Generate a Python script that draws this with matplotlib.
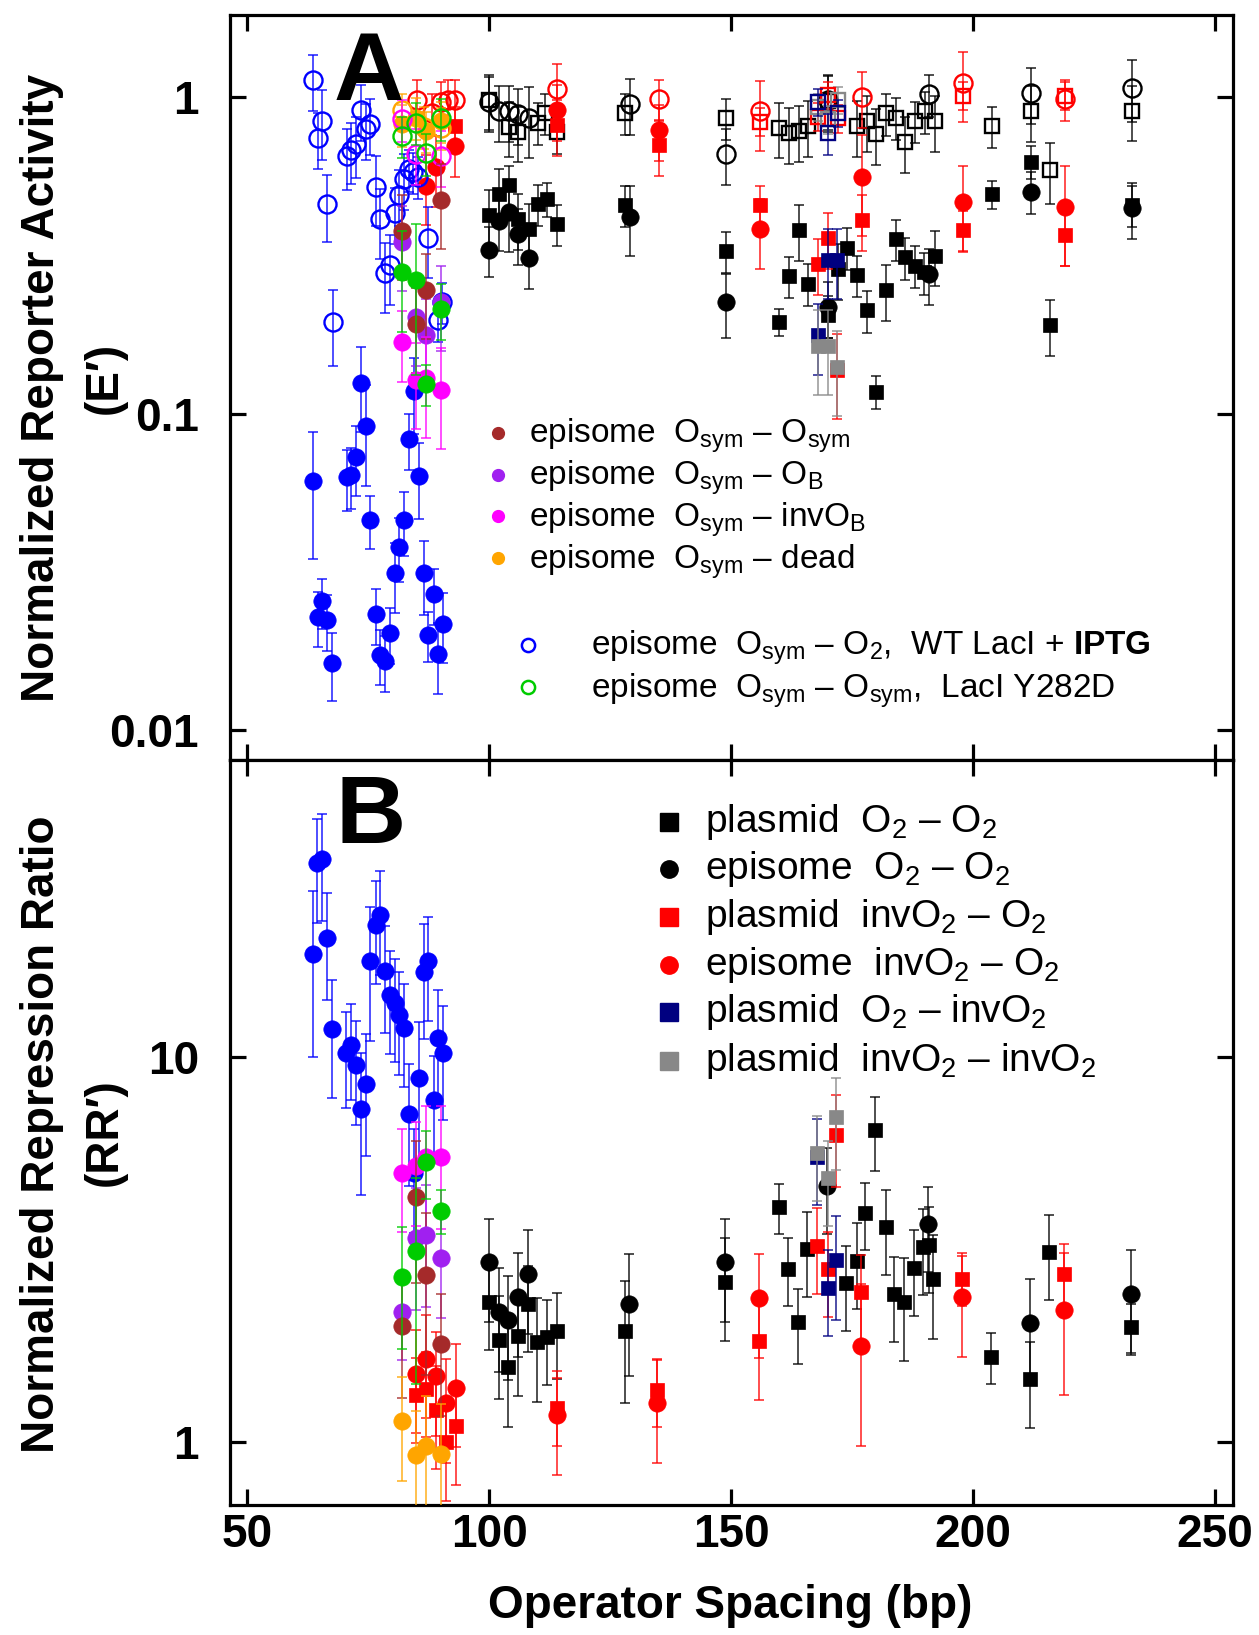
import numpy as np
import matplotlib
matplotlib.use("Agg")
import matplotlib.pyplot as plt

plt.rcParams['font.family'] = ['Liberation Sans', 'DejaVu Sans']
plt.rcParams['mathtext.fontset'] = 'custom'
plt.rcParams['mathtext.rm'] = 'Liberation Sans'
plt.rcParams['mathtext.it'] = 'Liberation Sans:italic'
plt.rcParams['mathtext.bf'] = 'Liberation Sans:bold'

# ---------------- panel A : normalized reporter activity ----------------
# episome Osym-O2, WT LacI (+IPTG open, no IPTG filled)
a_blue_open_x = [63.5, 64.5, 65.5, 66.5, 67.6, 70.6, 71.4, 72.5, 73.5, 74.5, 75.4, 76.5,
                 77.4, 78.5, 79.5, 80.5, 81.4, 82.4, 83.3, 84.3, 85.3, 87.4, 89.3, 90.3]
a_blue_open_y = [1.13, 0.74, 0.84, 0.458, 0.194, 0.65, 0.68, 0.71, 0.91, 0.79, 0.82, 0.52,
                 0.41, 0.277, 0.294, 0.43, 0.49, 0.55, 0.59, 0.58, 0.56, 0.358, 0.198, 0.225]
a_blue_open_e = [0.2, 0.2, 0.25, 0.24, 0.27, 0.22, 0.22, 0.22, 0.2, 0.2, 0.2, 0.25,
                 0.25, 0.25, 0.25, 0.2, 0.2, 0.2, 0.15, 0.15, 0.15, 0.25, 0.15, 0.15]
a_blue_x = [63.5, 64.5, 65.5, 66.4, 67.5, 70.6, 71.4, 72.5, 73.4, 74.5, 75.4, 76.5, 77.4,
            78.5, 79.4, 80.5, 81.4, 82.4, 83.5, 84.5, 85.4, 86.5, 87.4, 88.5, 89.4, 90.4]
a_blue_y = [0.061, 0.0228, 0.0255, 0.0222, 0.0163, 0.063, 0.064, 0.073, 0.125, 0.091, 0.046,
            0.0232, 0.0173, 0.0165, 0.0202, 0.0313, 0.038, 0.046, 0.083, 0.118, 0.0637,
            0.0313, 0.020, 0.0269, 0.0174, 0.0217]
a_blue_e = [0.43, 0.2, 0.18, 0.2, 0.24, 0.22, 0.22, 0.25, 0.3, 0.35, 0.19, 0.2, 0.2,
            0.2, 0.2, 0.25, 0.23, 0.23, 0.2, 0.27, 0.27, 0.26, 0.18, 0.2, 0.25, 0.25]

cluster_x = [82.0, 84.9, 86.9, 90.0]
a_brown_y = [0.376, 0.192, 0.245, 0.473]
a_brown_e = [0.3, 0.3, 0.3, 0.3]
a_purple_y = [0.349, 0.202, 0.177, 0.225]
a_purple_e = [0.3, 0.3, 0.3, 0.3]
a_magenta_y = [0.168, 0.128, 0.129, 0.119]
a_magenta_e = [0.25, 0.3, 0.35, 0.35]
a_orange_y = [0.82, 0.86, 0.78, 0.84]
a_orange_e = [0.15, 0.15, 0.15, 0.15]
a_green_y = [0.279, 0.264, 0.124, 0.214]
a_green_e = [0.35, 0.5, 0.15, 0.2]

a_orange_open_x = [82.0, 86.5, 90.0]
a_orange_open_y = [0.91, 0.806, 0.80]
a_orange_open_e = [0.12, 0.15, 0.15]
a_magenta_open_x = [82.0, 84.9, 90.0]
a_magenta_open_y = [0.85, 0.66, 0.65]
a_magenta_open_e = [0.15, 0.2, 0.2]
a_green_open_y = [0.753, 0.83, 0.664, 0.856]
a_green_open_e = [0.15, 0.15, 0.15, 0.15]

# O2 / invO2 constructs
a_red_open_x = [85.0, 88.2, 90.0, 91.4, 92.9, 114.0, 135.0, 156.0, 177.0, 198.0, 219.0]
a_red_open_y = [0.98, 0.89, 0.966, 0.98, 0.98, 1.06, 0.985, 0.90, 1.0, 1.11, 0.985]
a_red_open_e = [0.15, 0.15, 0.15, 0.15, 0.15, 0.2, 0.15, 0.25, 0.2, 0.25, 0.15]
a_red_osq_x = [156.0, 167.9, 170.0, 172.0, 198.0, 219.0]
a_red_osq_y = [0.836, 0.867, 1.015, 0.856, 1.01, 1.01]
a_red_osq_e = [0.1, 0.1, 0.1, 0.1, 0.1, 0.1]
a_red_x = [86.9, 88.9, 92.9, 114.0, 135.0, 156.0, 177.0, 198.0, 219.0]
a_red_y = [0.524, 0.60, 0.70, 0.91, 0.787, 0.382, 0.56, 0.465, 0.449]
a_red_e = [0.25, 0.25, 0.2, 0.2, 0.2, 0.25, 0.35, 0.3, 0.35]
a_red_sq_x = [92.9, 114.0, 135.0, 156.0, 167.9, 170.0, 171.8, 177.0, 198.0, 219.0]
a_red_sq_y = [0.81, 0.816, 0.705, 0.454, 0.296, 0.358, 0.137, 0.409, 0.38, 0.365]
a_red_sq_e = [0.15, 0.2, 0.2, 0.15, 0.2, 0.2, 0.3, 0.2, 0.15, 0.2]

a_k_osq_x = [100.0, 104.0, 106.0, 110.0, 111.5, 114.0, 128.0, 148.9, 159.9, 162.0, 164.0, 165.9, 170.0,
             175.9, 178.0, 179.9, 181.9, 184.0, 186.0, 188.0, 190.0, 192.1, 204.0, 212.0, 215.9, 232.9]
a_k_osq_y = [0.98, 0.805, 0.777, 0.83, 0.89, 0.777, 0.89, 0.857, 0.80, 0.768, 0.78, 0.81, 0.97,
             0.81, 0.84, 0.763, 0.888, 0.86, 0.719, 0.84, 0.90, 0.84, 0.81, 0.903, 0.588, 0.905]
a_k_osq_e = [0.2, 0.2, 0.2, 0.15, 0.15, 0.15, 0.15, 0.15, 0.2, 0.2, 0.2, 0.2, 0.2,
             0.2, 0.2, 0.2, 0.15, 0.15, 0.2, 0.15, 0.15, 0.2, 0.15, 0.2, 0.22, 0.2]
a_k_oc_x = [100.0, 102.1, 104.0, 106.0, 108.1, 129.0, 148.9, 170.0, 190.9, 212.0, 232.9]
a_k_oc_y = [0.966, 0.90, 0.90, 0.88, 0.857, 0.95, 0.66, 0.98, 1.02, 1.03, 1.07]
a_k_oc_e = [0.2, 0.2, 0.2, 0.2, 0.25, 0.2, 0.2, 0.2, 0.15, 0.2, 0.22]
a_k_sq_x = [100.0, 102.1, 104.0, 106.0, 108.1, 110.0, 112.0, 114.0, 128.0, 148.9, 159.9, 162.0, 164.0,
            165.9, 170.0, 172.0, 174.0, 175.9, 178.0, 179.9, 181.9, 184.0, 186.0, 188.0, 189.9, 192.1,
            204.0, 212.0, 215.9, 232.9]
a_k_sq_y = [0.424, 0.494, 0.527, 0.411, 0.383, 0.459, 0.476, 0.397, 0.456, 0.326, 0.195, 0.272, 0.38,
            0.257, 0.204, 0.286, 0.334, 0.274, 0.212, 0.117, 0.245, 0.356, 0.311, 0.293, 0.279, 0.315,
            0.493, 0.625, 0.19, 0.456]
a_k_sq_e = [0.2, 0.2, 0.15, 0.2, 0.2, 0.15, 0.12, 0.15, 0.15, 0.15, 0.1, 0.15, 0.2,
            0.15, 0.15, 0.2, 0.15, 0.15, 0.15, 0.12, 0.2, 0.15, 0.15, 0.15, 0.15, 0.2,
            0.1, 0.12, 0.2, 0.15]
a_k_x = [100.0, 102.1, 104.0, 106.0, 108.1, 129.0, 148.9, 170.0, 190.9, 212.0, 232.9]
a_k_y = [0.329, 0.407, 0.432, 0.368, 0.309, 0.419, 0.225, 0.217, 0.275, 0.502, 0.445]
a_k_e = [0.18, 0.2, 0.25, 0.2, 0.2, 0.25, 0.23, 0.2, 0.2, 0.15, 0.2]

a_navy_x = [167.9, 170.1, 171.8]
a_navy_y = [0.177, 0.306, 0.306]
a_navy_e = [0.25, 0.25, 0.25]
a_gray_x = [167.9, 170.0, 171.8]
a_gray_y = [0.163, 0.163, 0.14]
a_gray_e = [0.3, 0.3, 0.3]
a_navy_osq_x = [167.9, 170.0, 172.0]
a_navy_osq_y = [0.966, 0.77, 0.89]
a_navy_osq_e = [0.1, 0.15, 0.1]
a_gray_osq_x = [168.0, 170.0, 172.0]
a_gray_osq_y = [0.93, 0.85, 0.98]
a_gray_osq_e = [0.1, 0.1, 0.1]

# ---------------- panel B : normalized repression ratio ----------------
b_blue_x = [63.5, 64.4, 65.5, 66.4, 67.5, 70.4, 71.4, 72.5, 73.4, 74.5, 75.4, 76.5, 77.4,
            78.5, 79.5, 80.5, 81.4, 82.4, 83.5, 84.5, 85.4, 86.5, 87.4, 88.5, 89.4, 90.4]
b_blue_y = [18.5, 31.8, 32.6, 20.3, 11.8, 10.2, 10.7, 9.5, 7.3, 8.5, 17.7, 22.0, 23.3,
            16.7, 14.5, 13.8, 12.8, 11.9, 7.1, 4.98, 8.8, 16.6, 17.7, 7.7, 11.2, 10.2]
b_blue_e = [0.46, 0.3, 0.31, 0.31, 0.34, 0.28, 0.28, 0.3, 0.4, 0.35, 0.38, 0.3, 0.3,
            0.31, 0.3, 0.3, 0.3, 0.3, 0.35, 0.3, 0.4, 0.33, 0.3, 0.3, 0.33, 0.33]
b_magenta_y = [5.0, 5.2, 5.5, 5.5]
b_magenta_e = [0.3, 0.3, 0.35, 0.35]
b_purple_y = [2.17, 3.37, 3.44, 2.99]
b_purple_e = [0.25, 0.35, 0.35, 0.3]
b_brown_y = [2.0, 4.31, 2.71, 1.79]
b_brown_e = [0.35, 0.4, 0.45, 0.35]
b_green_y = [2.67, 3.13, 5.33, 3.98]
b_green_e = [0.35, 0.55, 0.2, 0.13]
b_orange_y = [1.13, 0.923, 0.975, 0.927]
b_orange_e = [0.3, 0.3, 0.35, 0.35]

b_red_x = [84.9, 86.9, 89.0, 91.0, 93.1, 113.9, 134.7, 155.8, 176.8, 197.7, 218.7]
b_red_y = [1.50, 1.64, 1.48, 1.26, 1.38, 1.17, 1.26, 2.36, 1.77, 2.37, 2.20]
b_red_e = [0.3, 0.3, 0.3, 0.3, 0.3, 0.3, 0.3, 0.3, 0.45, 0.3, 0.4]
b_red_sq_x = [84.9, 86.9, 89.0, 91.1, 93.2, 113.9, 134.7, 155.8, 167.8, 169.9, 171.7, 176.8, 197.7, 218.7]
b_red_sq_y = [1.32, 1.37, 1.21, 1.0, 1.10, 1.22, 1.36, 1.83, 3.23, 2.81, 6.27, 2.44, 2.64, 2.72]
b_red_sq_e = [0.25, 0.25, 0.3, 0.3, 0.3, 0.2, 0.2, 0.3, 0.25, 0.25, 0.27, 0.25, 0.15, 0.2]
b_navy_x = [167.8, 169.9, 171.7]
b_navy_y = [5.5, 2.51, 2.96]
b_navy_e = [0.25, 0.25, 0.3]
b_gray_x = [167.8, 169.9, 171.7]
b_gray_y = [5.61, 4.83, 6.95]
b_gray_e = [0.25, 0.25, 0.27]

b_k_sq_x = [100.0, 102.1, 103.9, 105.9, 108.0, 109.9, 111.9, 113.9, 128.0, 148.8, 159.8, 161.8, 163.9,
            165.7, 173.8, 175.9, 177.7, 179.7, 181.9, 183.7, 185.7, 187.8, 189.7, 190.8, 191.7, 203.7,
            211.8, 215.6, 232.7]
b_k_sq_y = [2.31, 1.84, 1.56, 1.88, 2.28, 1.81, 1.87, 1.94, 1.94, 2.60, 4.07, 2.81, 2.04,
            3.16, 2.58, 2.95, 3.92, 6.45, 3.61, 2.42, 2.31, 2.83, 3.21, 3.25, 2.64, 1.66,
            1.45, 3.10, 1.98]
b_k_sq_e = [0.25, 0.3, 0.3, 0.3, 0.25, 0.3, 0.25, 0.25, 0.35, 0.3, 0.15, 0.2, 0.22,
            0.25, 0.25, 0.25, 0.2, 0.22, 0.25, 0.25, 0.3, 0.25, 0.25, 0.25, 0.3, 0.15,
            0.25, 0.25, 0.15]
b_k_x = [100.0, 102.1, 103.9, 105.9, 108.0, 128.8, 148.8, 169.7, 190.6, 211.8, 232.7]
b_k_y = [2.92, 2.17, 2.07, 2.37, 2.72, 2.28, 2.92, 4.62, 3.67, 2.03, 2.42]
b_k_e = [0.3, 0.3, 0.3, 0.3, 0.3, 0.35, 0.3, 0.25, 0.25, 0.3, 0.3]

# axis / tick text
x_ticks = [50, 100, 150, 200, 250]
a_yticks = [0.01, 0.1, 1]
a_yticklabels = ['0.01', '0.1', '1']
b_yticks = [1, 10]
b_yticklabels = ['1', '10']

legend_a = ['episome  O$_{\\mathregular{sym}}$ – O$_{\\mathregular{sym}}$',
            'episome  O$_{\\mathregular{sym}}$ – O$_{\\mathregular{B}}$',
            'episome  O$_{\\mathregular{sym}}$ – invO$_{\\mathregular{B}}$',
            'episome  O$_{\\mathregular{sym}}$ – dead']
legend_a2 = ['episome  O$_{\\mathregular{sym}}$ – O$_{\\mathregular{2}}$,  WT LacI + $\\mathbf{IPTG}$',
             'episome  O$_{\\mathregular{sym}}$ – O$_{\\mathregular{sym}}$,  LacI Y282D']
legend_b = ['plasmid  O$_{\\mathregular{2}}$ – O$_{\\mathregular{2}}$',
            'episome  O$_{\\mathregular{2}}$ – O$_{\\mathregular{2}}$',
            'plasmid  invO$_{\\mathregular{2}}$ – O$_{\\mathregular{2}}$',
            'episome  invO$_{\\mathregular{2}}$ – O$_{\\mathregular{2}}$',
            'plasmid  O$_{\\mathregular{2}}$ – invO$_{\\mathregular{2}}$',
            'plasmid  invO$_{\\mathregular{2}}$ – invO$_{\\mathregular{2}}$']

BROWN = '#a52a2a'
PURPLE = '#a020f0'
MAGENTA = '#ff00ff'
ORANGE = '#ffa500'
GREEN = '#00cc00'
BLUE = '#0000ff'
NAVY = '#000080'
GRAY = '#888888'
RED = '#ff0000'
BLACK = '#000000'

W, H = 1259, 1635


def fx(px):
    return px / W


def fy(py):
    return 1 - py / H


def series(ax, x, y, e, color, marker='o', hollow=False, z=2):
    x = np.asarray(x)
    y = np.asarray(y)
    if marker == 'o':
        ms = 13 if hollow else 12.5
    else:
        ms = 9.8
    ax.errorbar(x, y, yerr=np.asarray(e) * y, fmt='none', ecolor=color, elinewidth=1.3,
                capsize=3.5, capthick=1.3, alpha=0.75, zorder=z)
    if hollow:
        ax.plot(x, y, ls='none', marker=marker, ms=ms, mfc='none', mec=color, mew=1.7, zorder=z + 0.1)
    else:
        ax.plot(x, y, ls='none', marker=marker, ms=ms, mfc=color, mec=color, mew=0.5, zorder=z + 0.1)


fig = plt.figure(figsize=(W / 100, H / 100), dpi=100)
axA = fig.add_axes([0.1823, 0.5352, 0.7970, 0.4559])
axB = fig.add_axes([0.1823, 0.0795, 0.7970, 0.4557])

# panel A
series(axA, a_k_osq_x, a_k_osq_y, a_k_osq_e, BLACK, 's', True, 2)
series(axA, a_k_oc_x, a_k_oc_y, a_k_oc_e, BLACK, 'o', True, 2)
series(axA, a_red_osq_x, a_red_osq_y, a_red_osq_e, RED, 's', True, 2.2)
series(axA, a_gray_osq_x, a_gray_osq_y, a_gray_osq_e, GRAY, 's', True, 2.3)
series(axA, a_navy_osq_x, a_navy_osq_y, a_navy_osq_e, NAVY, 's', True, 2.4)
series(axA, a_red_open_x, a_red_open_y, a_red_open_e, RED, 'o', True, 2.5)
series(axA, a_k_sq_x, a_k_sq_y, a_k_sq_e, BLACK, 's', False, 3)
series(axA, a_k_x, a_k_y, a_k_e, BLACK, 'o', False, 3)
series(axA, a_red_sq_x, a_red_sq_y, a_red_sq_e, RED, 's', False, 3.2)
series(axA, a_red_x, a_red_y, a_red_e, RED, 'o', False, 3.3)
series(axA, a_navy_x, a_navy_y, a_navy_e, NAVY, 's', False, 3.4)
series(axA, a_gray_x, a_gray_y, a_gray_e, GRAY, 's', False, 3.5)
series(axA, a_blue_open_x, a_blue_open_y, a_blue_open_e, BLUE, 'o', True, 4)
series(axA, a_blue_x, a_blue_y, a_blue_e, BLUE, 'o', False, 4)
series(axA, cluster_x, a_orange_y, a_orange_e, ORANGE, 'o', False, 4.2)
series(axA, a_orange_open_x, a_orange_open_y, a_orange_open_e, ORANGE, 'o', True, 4.3)
series(axA, a_magenta_open_x, a_magenta_open_y, a_magenta_open_e, MAGENTA, 'o', True, 4.4)
series(axA, cluster_x, a_green_open_y, a_green_open_e, GREEN, 'o', True, 4.5)
series(axA, cluster_x, a_purple_y, a_purple_e, PURPLE, 'o', False, 4.6)
series(axA, cluster_x, a_brown_y, a_brown_e, BROWN, 'o', False, 4.7)
series(axA, cluster_x, a_magenta_y, a_magenta_e, MAGENTA, 'o', False, 4.8)
series(axA, cluster_x, a_green_y, a_green_e, GREEN, 'o', False, 4.9)

# panel B
series(axB, b_k_sq_x, b_k_sq_y, b_k_sq_e, BLACK, 's', False, 2)
series(axB, b_k_x, b_k_y, b_k_e, BLACK, 'o', False, 2)
series(axB, b_red_sq_x, b_red_sq_y, b_red_sq_e, RED, 's', False, 2.2)
series(axB, b_red_x, b_red_y, b_red_e, RED, 'o', False, 2.3)
series(axB, b_navy_x, b_navy_y, b_navy_e, NAVY, 's', False, 2.4)
series(axB, b_gray_x, b_gray_y, b_gray_e, GRAY, 's', False, 2.5)
series(axB, b_blue_x, b_blue_y, b_blue_e, BLUE, 'o', False, 3)
series(axB, cluster_x, b_magenta_y, b_magenta_e, MAGENTA, 'o', False, 3.1)
series(axB, cluster_x, b_purple_y, b_purple_e, PURPLE, 'o', False, 3.2)
series(axB, cluster_x, b_brown_y, b_brown_e, BROWN, 'o', False, 3.3)
series(axB, cluster_x, b_green_y, b_green_e, GREEN, 'o', False, 3.4)
series(axB, cluster_x, b_orange_y, b_orange_e, ORANGE, 'o', False, 3.5)

for ax in (axA, axB):
    ax.set_yscale('log')
    ax.set_xlim(46.3, 253.7)
    ax.set_xticks(x_ticks)
    ax.minorticks_off()
    for sp in ax.spines.values():
        sp.set_linewidth(2.3)
    ax.tick_params(which='major', direction='in', length=11.5, width=2.3,
                   top=True, right=True, labelsize=33, pad=22)
    ax.tick_params(axis='x', pad=6)

axA.set_ylim(0.00805, 1.82)
axA.set_yticks(a_yticks)
axA.set_yticklabels(a_yticklabels, fontweight='bold')
axA.tick_params(axis='x', labelbottom=False)
axA.minorticks_off()

axB.set_ylim(0.684, 59.0)
axB.set_yticks(b_yticks)
axB.set_yticklabels(b_yticklabels, fontweight='bold')
axB.set_xticklabels([str(t) for t in x_ticks], fontweight='bold')
axB.minorticks_off()

# panel letters
fig.text(fx(369), fy(100), 'A', fontsize=70, fontweight='bold', ha='center', va='baseline')
fig.text(fx(371), fy(843), 'B', fontsize=70, fontweight='bold', ha='center', va='baseline')

# axis labels
fig.text(fx(41.7), fy(387.5), 'Normalized Reporter Activity', rotation=90, fontsize=33,
         fontweight='bold', ha='center', va='center')
fig.text(fx(104.3), fy(377.6), '(E′)', rotation=90, fontsize=33, fontweight='bold',
         ha='center', va='center')
fig.text(fx(41.7), fy(1134), 'Normalized Repression Ratio', rotation=90, fontsize=33,
         fontweight='bold', ha='center', va='center')
fig.text(fx(104.3), fy(1131.8), '(RR′)', rotation=90, fontsize=33, fontweight='bold',
         ha='center', va='center')
fig.text(fx(730.2), fy(1606.4), 'Operator Spacing (bp)', fontsize=33, fontweight='bold',
         ha='center', va='center')

# legends drawn by hand
rows_a = [432.9, 474.6, 516.3, 558.1]
for yy, lab, col in zip(rows_a, legend_a, [BROWN, PURPLE, MAGENTA, ORANGE]):
    fig.lines.append(plt.Line2D([fx(497.6)], [fy(yy)], transform=fig.transFigure, ls='none',
                                marker='o', ms=8.5, mfc=col, mec=col))
    fig.text(fx(528.9), fy(yy + 10), lab, fontsize=24, ha='left', va='baseline')

rows_a2 = [644.6, 687.4]
for yy, lab, col in zip(rows_a2, legend_a2, [BLUE, GREEN]):
    fig.lines.append(plt.Line2D([fx(527.8)], [fy(yy)], transform=fig.transFigure, ls='none',
                                marker='o', ms=9.5, mfc='none', mec=col, mew=1.8))
    fig.text(fx(591.4), fy(yy + 10), lab, fontsize=24, ha='left', va='baseline')

rows_b = [822.0, 868.9, 916.9, 964.9, 1011.8, 1060.9]
marks_b = ['s', 'o', 's', 'o', 's', 's']
cols_b = [BLACK, BLACK, RED, RED, NAVY, GRAY]
for yy, lab, mk, col in zip(rows_b, legend_b, marks_b, cols_b):
    fig.lines.append(plt.Line2D([fx(668.6)], [fy(yy)], transform=fig.transFigure, ls='none',
                                marker=mk, ms=13 if mk == 's' else 12.5, mfc=col, mec=col))
    fig.text(fx(705.1), fy(yy + 10.5), lab, fontsize=28, ha='left', va='baseline')

fig.savefig('out.png', dpi=100)
